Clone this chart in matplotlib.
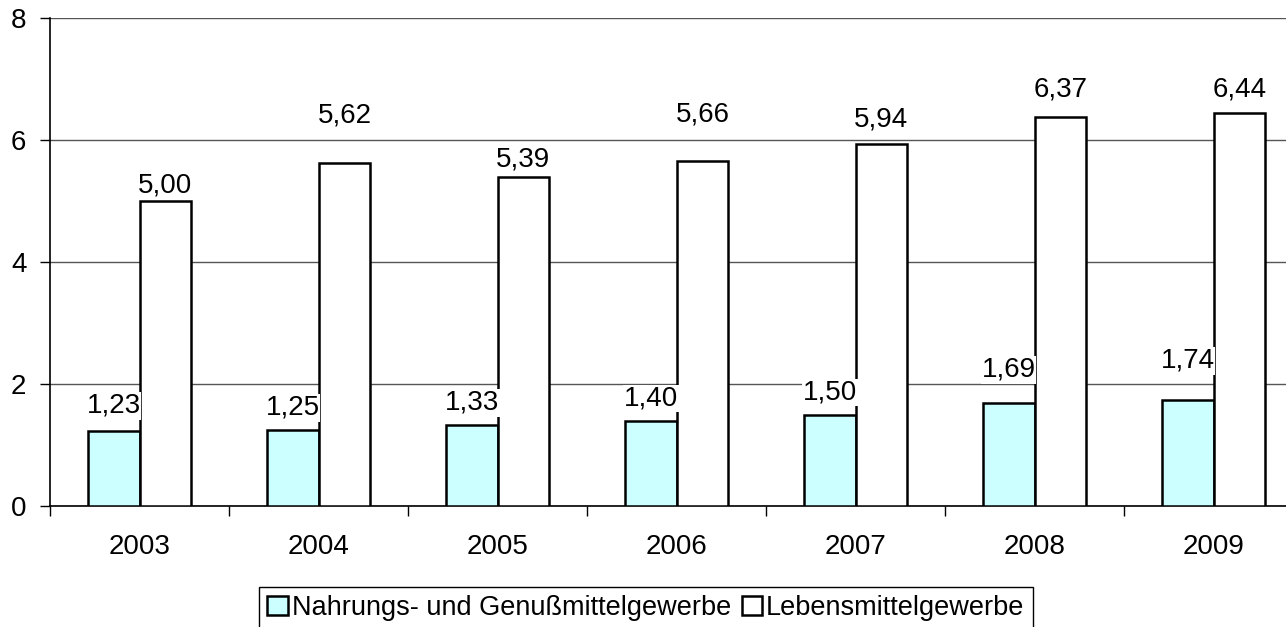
import matplotlib
matplotlib.use("Agg")
import matplotlib.pyplot as plt
import numpy as np

years = ["2003", "2004", "2005", "2006", "2007", "2008", "2009"]
nahrung = [1.23, 1.25, 1.33, 1.40, 1.50, 1.69, 1.74]
lebensmittel = [5.00, 5.62, 5.39, 5.66, 5.94, 6.37, 6.44]
series_names = ["Nahrungs- und Genußmittelgewerbe", "Lebensmittelgewerbe"]
yticks = [0, 2, 4, 6, 8]

# label offsets above bar tops (pixels), mimicking the original placement
off_n = [25, 22, 22, 22, 22, 33, 39]
off_l = [16, 48, 18, 46, 24, 28, 24]

plt.rcParams['font.family'] = ['Liberation Sans', 'DejaVu Sans']
W, H = 1286, 627
fig = plt.figure(figsize=(W / 100, H / 100), dpi=100)
ax = fig.add_axes([50 / W, (H - 506) / H, (1303 - 50) / W, (506 - 18) / H])

x = np.arange(len(years))
bw = 0.29
b1 = ax.bar(x - bw / 2, nahrung, bw, color="#CCFFFF", edgecolor="black", linewidth=1.8,
            label=series_names[0], zorder=3)
b2 = ax.bar(x + bw / 2, lebensmittel, bw, color="white", edgecolor="black", linewidth=1.8,
            label=series_names[1], zorder=3)

fs = 20
for xi, v, o in zip(x - bw / 2, nahrung, off_n):
    ax.annotate(f"{v:.2f}".replace(".", ","), (xi, v), xytext=(0, o), textcoords="offset pixels",
                ha="center", va="center", fontsize=fs, zorder=4,
                bbox=dict(facecolor="white", edgecolor="none", pad=0.5))
for xi, v, o in zip(x + bw / 2, lebensmittel, off_l):
    ax.annotate(f"{v:.2f}".replace(".", ","), (xi, v), xytext=(0, o), textcoords="offset pixels",
                ha="center", va="center", fontsize=fs, zorder=4,
                bbox=dict(facecolor="white", edgecolor="none", pad=0.5))

ax.set_xlim(-0.5, len(years) - 0.5)
ax.set_ylim(0, 8)
ax.set_yticks(yticks)
ax.set_yticklabels([str(t) for t in yticks], fontsize=fs)
ax.set_xticks(x)
ax.set_xticklabels(years, fontsize=fs)
ax.tick_params(axis="x", length=0, pad=20)
ax.set_xticks(np.arange(len(years)) - 0.5, minor=True)
ax.tick_params(axis="x", which="minor", length=7, width=1, direction="out")
ax.tick_params(axis="y", length=7, width=1, direction="out", pad=10)
ax.yaxis.grid(True, color="#555555", linewidth=1, zorder=0)
ax.set_axisbelow(True)
for s in ["top", "right"]:
    ax.spines[s].set_visible(False)
ax.spines["left"].set_linewidth(1.2)
ax.spines["bottom"].set_linewidth(1.2)

leg = fig.legend(handles=[b1, b2], labels=series_names, loc="center",
                 bbox_to_anchor=(646 / W, 1 - 608 / H), ncol=2, fontsize=19.5,
                 frameon=True, fancybox=False, edgecolor="black", framealpha=1,
                 handlelength=0.75, handleheight=0.75, handletextpad=0.15,
                 columnspacing=0.4, borderpad=0.3, borderaxespad=0)
leg.get_frame().set_linewidth(1.0)

fig.savefig("out.png", dpi=100)
